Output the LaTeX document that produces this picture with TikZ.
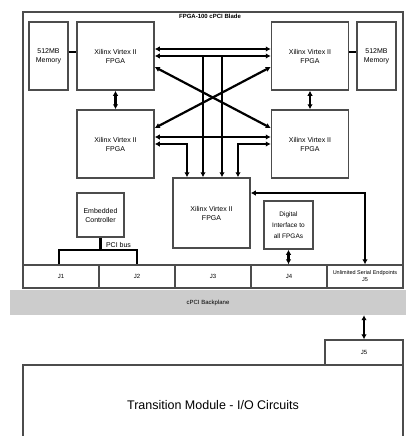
\documentclass[tikz,border=0pt]{standalone}
\usepackage{fontspec}
\setmainfont{Liberation Sans}
\usetikzlibrary{arrows.meta,positioning,calc}

\begin{document}
\begin{tikzpicture}[x=1pt, y=-1pt,
    box/.style={draw=gray!60!black, line width=1.5pt, fill=white, inner sep=1pt, align=center, font=\fontsize{7}{9}\selectfont},
    fpga/.style={box, minimum width=77pt, minimum height=68pt},
    mem/.style={box, minimum width=39pt, minimum height=68pt},
    conn/.style={draw=gray!60!black, line width=1.3pt, minimum height=23pt, inner sep=1pt, align=center, font=\fontsize{6}{7}\selectfont},
    bus/.style={line width=2.2pt, >={Latex[length=5pt,width=5.5pt]}},
    link/.style={line width=1.6pt},
    lbl/.style={font=\fontsize{7}{8}\selectfont}]

\useasboundingbox (0,0) rectangle (406,436);

% blade outline
\node[draw=gray!60!black, line width=1.5pt, minimum width=380pt, minimum height=276pt] (blade) at (213,150) {};
\node[font=\bfseries\fontsize{6}{7}\selectfont] (title) at (210,16) {FPGA-100 cPCI Blade};

\node[mem] (meml) at (48.5,56) {512MB\\Memory};
\node[fpga] (tl) at (115.5,56) {Xilinx Virtex II\\FPGA};
\node[fpga] (tr) at (310,56) {Xilinx Virtex II\\FPGA};
\node[mem] (memr) at (376.5,56) {512MB\\Memory};
\node[fpga] (ml) at (115.5,144) {Xilinx Virtex II\\FPGA};
\node[fpga] (mr) at (310,144) {Xilinx Virtex II\\FPGA};
\node[fpga, minimum height=70pt] (fc) at (211.5,213) {Xilinx Virtex II\\FPGA};
\node[box, minimum width=47pt, minimum height=44pt] (emb) at (100.5,215) {Embedded\\Controller};
\node[box, minimum width=49pt, minimum height=48pt, font=\fontsize{6.5}{11}\selectfont] (dig) at (288.5,225) {Digital\\Interface to\\all FPGAs};

% connectors
\foreach \i in {1,...,4}
  \node[conn, minimum width=76pt] (j\i) at ({76*\i-15},276.5) {J\i};
\node[conn, minimum width=76pt, font=\fontsize{5.5}{7}\selectfont] (j5) at (365,276.5) {Unlimited Serial Endpoints\\J5};

% memory links
\draw[link] ($(meml.east)+(0,-4)$) -- ($(tl.west)+(0,-4)$);
\draw[link] ($(tr.east)+(0,-4)$) -- ($(memr.west)+(0,-4)$);

% fpga crossbar
\draw[bus,<->] (tl.south) -- (ml.north);
\draw[bus,<->] (tr.south) -- (mr.north);
\draw[bus,<->] ($(tl.east)+(0,-7)$) -- ($(tr.west)+(0,-7)$);
\draw[bus,<->] ($(ml.east)+(0,-7)$) -- ($(mr.west)+(0,-7)$);
\draw[bus,<->] ($(tl.east)+(0,11)$) -- ($(mr.west)+(0,-16)$);
\draw[bus,<->] ($(tr.west)+(0,11)$) -- ($(ml.east)+(0,-16)$);
\draw[bus,<->] (tl.east) -| ($(fc.north)+(10.5,0)$);
\draw[bus,<->] (tr.west) -| ($(fc.north)+(-8.5,0)$);
\draw[bus,<->] (ml.east) -| ($(fc.north)+(-24.5,0)$);
\draw[bus,<->] (mr.west) -| ($(fc.north)+(26.5,0)$);

% controller and io
\coordinate (pcil) at (59,250);
\draw[bus] (emb.south) -- (emb.south |- pcil);
\draw[bus] (j1.north -| pcil) -- (pcil) -- (j2.north |- pcil) -- (j2.north);
\node[lbl, anchor=west] (pcibus) at ($(emb.south |- pcil)+(2,-5)$) {PCI bus};
\draw[bus,<->] (dig.south) -- (dig.south |- j4.north);
\draw[bus,<->] ($(fc.east)+(0,-20)$) -| (j5.north);

% backplane and transition module
\node[fill=gray!40, minimum width=396pt, minimum height=25pt, font=\fontsize{6}{7}\selectfont] (bp) at (208,302.5) {cPCI Backplane};
\node[conn, minimum width=78pt, minimum height=25pt] (tj5) at (364,352.5) {J5};
\node[draw=gray!60!black, line width=1.5pt, minimum width=380pt, minimum height=80pt, font=\fontsize{12.5}{14}\selectfont] (tm) at (213,405) {Transition Module - I/O Circuits};
\draw[bus,<->] (bp.south -| tj5.north) -- (tj5.north);
\end{tikzpicture}
\end{document}
